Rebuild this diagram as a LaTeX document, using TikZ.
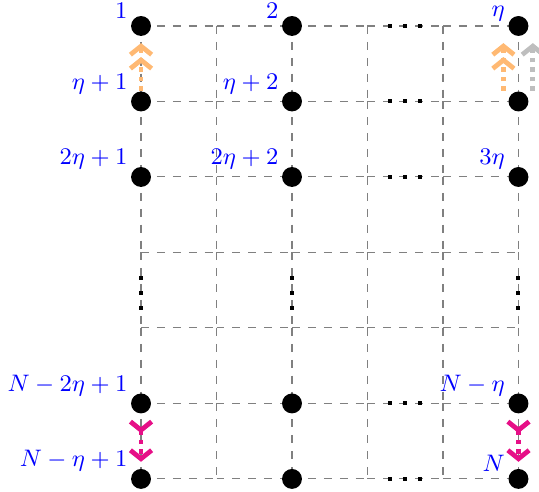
\documentclass[tikz,border=0pt]{standalone}
\usepackage{amsmath}
\usepackage{xcolor}
\usepackage{tikz}
\usetikzlibrary{arrows.meta}
\definecolor{upcol}{RGB}{255,185,115}
\definecolor{sidecol}{RGB}{190,190,190}
\definecolor{downcol}{RGB}{230,15,135}
\tikzset{
  % --- lattice sites ---------------------------------------------------------
  site/.style={circle,fill=black,inner sep=0pt,minimum size=7.5pt},
  idx/.style={anchor=south east,inner sep=1pt,yshift=1.6pt,text=blue,
              font=\small},
  % --- background lattice and ellipsis marks ---------------------------------
  cell/.style={dashed,black!50,line width=0.4pt},
  ell/.style={fill=black},
  % --- hops between rows -----------------------------------------------------
  chev/.tip={Straight Barb[length=3.2pt,width=8pt]},
  hop/.style={line width=1.8pt,dash pattern=on 1.8pt off 1.8pt},
  uphop/.style={hop,upcol,-{chev[]chev[]},shorten >=2.5pt},
  sidehop/.style={hop,sidecol,-{chev[]},shorten >=2.5pt},
  downhop/.style={hop,downcol,{chev[reversed]}-{chev[]},
                  shorten <=2pt,shorten >=2.5pt},
}

\begin{document}
\begin{tikzpicture}[x=1cm, y=1cm]
  \useasboundingbox (-1.868,-6.172) rectangle (5.272,0.344);

  % dashed lattice, one segment per cell edge
  \foreach \r in {0,...,6}
    \foreach \c in {0,...,4}
      \draw[cell] (\c,-\r) -- (\c+1,-\r);
  \foreach \c in {0,...,5}
    \foreach \r in {0,...,5}
      \draw[cell] (\c,-\r) -- (\c,-\r-1);

  % sites
  \node[site,label={[idx]left:$1$}]             (n00) at (0,0)  {};
  \node[site,label={[idx]left:$2$}]             (n02) at (2,0)  {};
  \node[site,label={[idx,yshift=-0.8pt]left:$\eta$}] (n05) at (5,0) {};
  \node[site,label={[idx]left:$\eta+1$}]        (n10) at (0,-1) {};
  \node[site,label={[idx]left:$\eta+2$}]        (n12) at (2,-1) {};
  \node[site]                                   (n15) at (5,-1) {};
  \node[site,label={[idx]left:$2\eta+1$}]       (n20) at (0,-2) {};
  \node[site,label={[idx]left:$2\eta+2$}]       (n22) at (2,-2) {};
  \node[site,label={[idx]left:$3\eta$}]         (n25) at (5,-2) {};
  \node[site,label={[idx]left:$N-2\eta+1$}]     (n50) at (0,-5) {};
  \node[site]                                   (n52) at (2,-5) {};
  \node[site,label={[idx]left:$N-\eta$}]        (n55) at (5,-5) {};
  \node[site,label={[idx]left:$N-\eta+1$}]      (n60) at (0,-6) {};
  \node[site]                                   (n62) at (2,-6) {};
  \node[site,label={[idx]left:$N$}]             (n65) at (5,-6) {};

  % ellipsis marks
  \foreach \r in {0,1,2,5,6}
    \foreach \d in {-0.2,0,0.2}
      \fill[ell] (3.5+\d,-\r) ++(-0.75pt,-0.75pt) rectangle ++(1.5pt,1.5pt);
  \foreach \c in {0,2,5}
    \foreach \d in {-0.2,0,0.2}
      \fill[ell] (\c,-3.54+\d) ++(-0.75pt,-0.75pt) rectangle ++(1.5pt,1.5pt);

  % hops
  \draw[uphop] (n10) -- (n00);
  \draw[uphop] ([xshift=-0.2cm]n15.north) -- ([xshift=-0.2cm]n05.south);
  \draw[sidehop] ([xshift=0.19cm]n15.north) -- ([xshift=0.19cm]n05.south);
  \draw[downhop] (n50) -- (n60);
  \draw[downhop] (n55) -- (n65);
\end{tikzpicture}
\end{document}
